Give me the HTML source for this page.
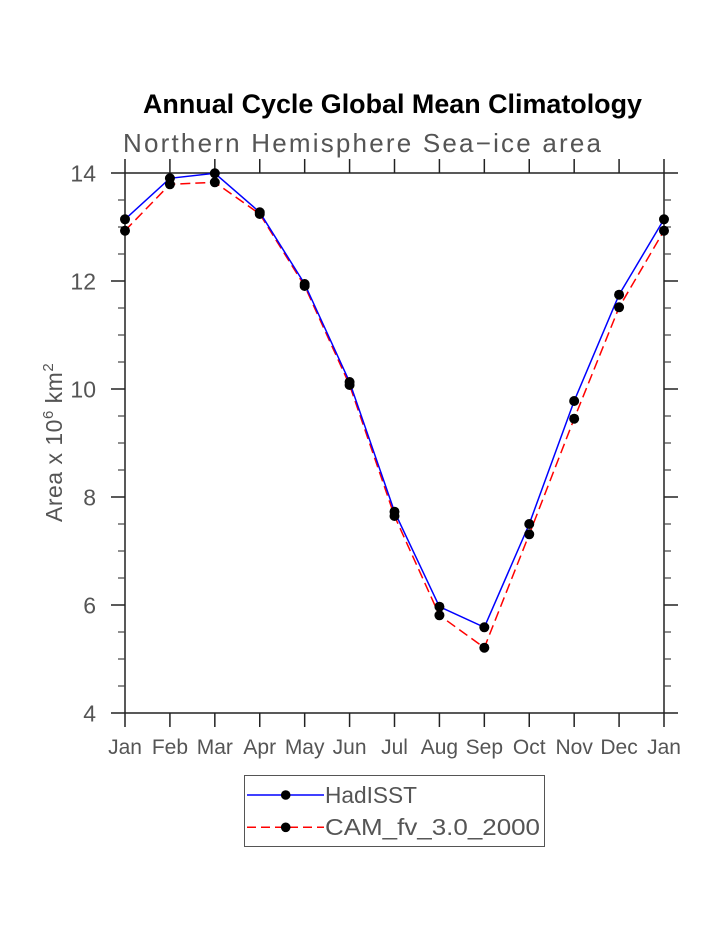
<!DOCTYPE html>
<html>
<head>
<meta charset="utf-8">
<style>
  html, body { margin: 0; padding: 0; background: #ffffff; }
  svg { display: block; }
  text { font-family: "Liberation Sans", "DejaVu Sans", sans-serif; }
</style>
</head>
<body>
<svg width="723" height="935" viewBox="0 0 723 935" xmlns="http://www.w3.org/2000/svg">
  <rect x="0" y="0" width="723" height="935" fill="#ffffff"/>

  <!-- Title -->
  <text x="143" y="113" font-size="27" font-weight="bold" fill="#000" textLength="499" lengthAdjust="spacingAndGlyphs">Annual Cycle Global Mean Climatology</text>
  <!-- Subtitle -->
  <text x="123" y="152" font-size="26" fill="#555" textLength="478" lengthAdjust="spacing">Northern Hemisphere Sea−ice area</text>

  <!-- Frame -->
  <g stroke="#222" stroke-width="1.5" fill="none">
    <line x1="111" y1="173" x2="678" y2="173"/>
    <line x1="111" y1="713" x2="678" y2="713"/>
    <line x1="125" y1="159" x2="125" y2="727"/>
    <line x1="664" y1="159" x2="664" y2="727"/>
  </g>

  <!-- X ticks (top & bottom) -->
  <g stroke="#222" stroke-width="1.5">
    <line x1="169.92" y1="159" x2="169.92" y2="173"/><line x1="169.92" y1="713" x2="169.92" y2="727"/>
    <line x1="214.83" y1="159" x2="214.83" y2="173"/><line x1="214.83" y1="713" x2="214.83" y2="727"/>
    <line x1="259.75" y1="159" x2="259.75" y2="173"/><line x1="259.75" y1="713" x2="259.75" y2="727"/>
    <line x1="304.67" y1="159" x2="304.67" y2="173"/><line x1="304.67" y1="713" x2="304.67" y2="727"/>
    <line x1="349.58" y1="159" x2="349.58" y2="173"/><line x1="349.58" y1="713" x2="349.58" y2="727"/>
    <line x1="394.5" y1="159" x2="394.5" y2="173"/><line x1="394.5" y1="713" x2="394.5" y2="727"/>
    <line x1="439.42" y1="159" x2="439.42" y2="173"/><line x1="439.42" y1="713" x2="439.42" y2="727"/>
    <line x1="484.33" y1="159" x2="484.33" y2="173"/><line x1="484.33" y1="713" x2="484.33" y2="727"/>
    <line x1="529.25" y1="159" x2="529.25" y2="173"/><line x1="529.25" y1="713" x2="529.25" y2="727"/>
    <line x1="574.17" y1="159" x2="574.17" y2="173"/><line x1="574.17" y1="713" x2="574.17" y2="727"/>
    <line x1="619.08" y1="159" x2="619.08" y2="173"/><line x1="619.08" y1="713" x2="619.08" y2="727"/>
  </g>

  <!-- Y major ticks -->
  <g stroke="#222" stroke-width="1.5">
    <line x1="111" y1="281" x2="125" y2="281"/><line x1="664" y1="281" x2="678" y2="281"/>
    <line x1="111" y1="389" x2="125" y2="389"/><line x1="664" y1="389" x2="678" y2="389"/>
    <line x1="111" y1="497" x2="125" y2="497"/><line x1="664" y1="497" x2="678" y2="497"/>
    <line x1="111" y1="605" x2="125" y2="605"/><line x1="664" y1="605" x2="678" y2="605"/>
  </g>
  <!-- Y minor ticks -->
  <g stroke="#444" stroke-width="1.2">
    <line x1="118" y1="200" x2="125" y2="200"/><line x1="664" y1="200" x2="671" y2="200"/>
    <line x1="118" y1="227" x2="125" y2="227"/><line x1="664" y1="227" x2="671" y2="227"/>
    <line x1="118" y1="254" x2="125" y2="254"/><line x1="664" y1="254" x2="671" y2="254"/>
    <line x1="118" y1="308" x2="125" y2="308"/><line x1="664" y1="308" x2="671" y2="308"/>
    <line x1="118" y1="335" x2="125" y2="335"/><line x1="664" y1="335" x2="671" y2="335"/>
    <line x1="118" y1="362" x2="125" y2="362"/><line x1="664" y1="362" x2="671" y2="362"/>
    <line x1="118" y1="416" x2="125" y2="416"/><line x1="664" y1="416" x2="671" y2="416"/>
    <line x1="118" y1="443" x2="125" y2="443"/><line x1="664" y1="443" x2="671" y2="443"/>
    <line x1="118" y1="470" x2="125" y2="470"/><line x1="664" y1="470" x2="671" y2="470"/>
    <line x1="118" y1="524" x2="125" y2="524"/><line x1="664" y1="524" x2="671" y2="524"/>
    <line x1="118" y1="551" x2="125" y2="551"/><line x1="664" y1="551" x2="671" y2="551"/>
    <line x1="118" y1="578" x2="125" y2="578"/><line x1="664" y1="578" x2="671" y2="578"/>
    <line x1="118" y1="632" x2="125" y2="632"/><line x1="664" y1="632" x2="671" y2="632"/>
    <line x1="118" y1="659" x2="125" y2="659"/><line x1="664" y1="659" x2="671" y2="659"/>
    <line x1="118" y1="686" x2="125" y2="686"/><line x1="664" y1="686" x2="671" y2="686"/>
  </g>

  <!-- Y tick labels -->
  <g font-size="23" fill="#555" text-anchor="end">
    <text x="96" y="181.5">14</text>
    <text x="96" y="289.5">12</text>
    <text x="96" y="397.5">10</text>
    <text x="96" y="505.5">8</text>
    <text x="96" y="613.5">6</text>
    <text x="96" y="721.5">4</text>
  </g>

  <!-- X tick labels -->
  <g font-size="21" fill="#555" text-anchor="middle">
    <text x="125" y="754">Jan</text>
    <text x="169.92" y="754">Feb</text>
    <text x="214.83" y="754">Mar</text>
    <text x="259.75" y="754">Apr</text>
    <text x="304.67" y="754">May</text>
    <text x="349.58" y="754">Jun</text>
    <text x="394.5" y="754">Jul</text>
    <text x="439.42" y="754">Aug</text>
    <text x="484.33" y="754">Sep</text>
    <text x="529.25" y="754">Oct</text>
    <text x="574.17" y="754">Nov</text>
    <text x="619.08" y="754">Dec</text>
    <text x="664" y="754">Jan</text>
  </g>

  <!-- Y axis label -->
  <text transform="translate(62,522) rotate(-90)" font-size="23" fill="#555" letter-spacing="0.5">Area x 10<tspan font-size="15" dy="-9">6</tspan><tspan dy="9"> km</tspan><tspan font-size="15" dy="-9">2</tspan></text>

  <!-- Red dashed series -->
  <polyline fill="none" stroke="#ff0000" stroke-width="1.5" stroke-dasharray="10,5"
    points="125,230.7 169.92,184.3 214.83,182.3 259.75,214 304.67,286 349.58,385 394.5,516 439.42,615.3 484.33,647.7 529.25,534.3 574.17,418.7 619.08,307.3 664,230.7"/>
  <!-- Blue solid series -->
  <polyline fill="none" stroke="#0000ff" stroke-width="1.5"
    points="125,219.3 169.92,178.3 214.83,173.3 259.75,212.3 304.67,284 349.58,382 394.5,511.7 439.42,606.7 484.33,627.3 529.25,524 574.17,401 619.08,294.7 664,219.3"/>

  <!-- Markers -->
  <g fill="#000">
    <circle cx="125" cy="230.7" r="5"/><circle cx="169.92" cy="184.3" r="5"/><circle cx="214.83" cy="182.3" r="5"/>
    <circle cx="259.75" cy="214" r="5"/><circle cx="304.67" cy="286" r="5"/><circle cx="349.58" cy="385" r="5"/>
    <circle cx="394.5" cy="516" r="5"/><circle cx="439.42" cy="615.3" r="5"/><circle cx="484.33" cy="647.7" r="5"/>
    <circle cx="529.25" cy="534.3" r="5"/><circle cx="574.17" cy="418.7" r="5"/><circle cx="619.08" cy="307.3" r="5"/>
    <circle cx="664" cy="230.7" r="5"/>

    <circle cx="125" cy="219.3" r="5"/><circle cx="169.92" cy="178.3" r="5"/><circle cx="214.83" cy="173.3" r="5"/>
    <circle cx="259.75" cy="212.3" r="5"/><circle cx="304.67" cy="284" r="5"/><circle cx="349.58" cy="382" r="5"/>
    <circle cx="394.5" cy="511.7" r="5"/><circle cx="439.42" cy="606.7" r="5"/><circle cx="484.33" cy="627.3" r="5"/>
    <circle cx="529.25" cy="524" r="5"/><circle cx="574.17" cy="401" r="5"/><circle cx="619.08" cy="294.7" r="5"/>
    <circle cx="664" cy="219.3" r="5"/>
  </g>

  <!-- Legend -->
  <rect x="244.5" y="775.5" width="300" height="71" fill="none" stroke="#555" stroke-width="1"/>
  <line x1="247" y1="795" x2="324" y2="795" stroke="#0000ff" stroke-width="1.5"/>
  <circle cx="285.7" cy="795" r="4.8" fill="#000"/>
  <text x="325" y="803" font-size="23" fill="#555" textLength="92" lengthAdjust="spacingAndGlyphs">HadISST</text>
  <line x1="247" y1="827.3" x2="324" y2="827.3" stroke="#ff0000" stroke-width="1.5" stroke-dasharray="9,5"/>
  <circle cx="285.7" cy="827.3" r="4.8" fill="#000"/>
  <text x="325" y="835" font-size="23" fill="#555" textLength="215" lengthAdjust="spacingAndGlyphs">CAM_fv_3.0_2000</text>
</svg>
</body>
</html>
